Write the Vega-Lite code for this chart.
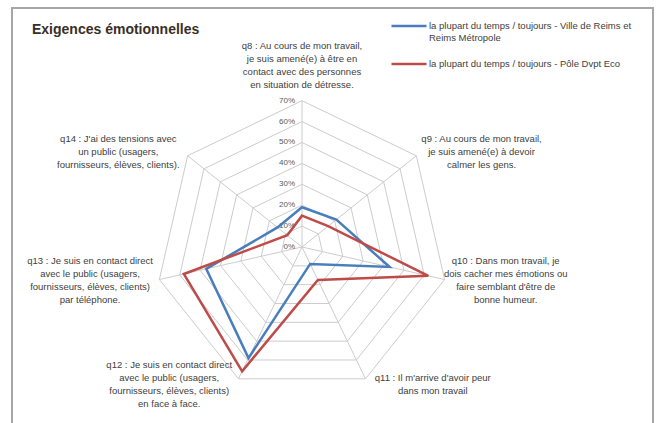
{
  "$schema": "https://vega.github.io/schema/vega-lite/v6.json",
  "width": 641,
  "height": 418,
  "autosize": "none",
  "padding": {"left": 12, "top": 8, "right": 5, "bottom": 0},
  "background": "white",
  "title": {
    "text": "Exigences émotionnelles",
    "anchor": "start",
    "frame": "group",
    "offset": -30,
    "dx": 20,
    "fontSize": 14,
    "fontWeight": "bold",
    "color": "#3a2e25",
    "font": "Liberation Sans"
  },
  "config": {
    "view": {"stroke": "#a6a6a6", "strokeWidth": 2},
    "font": "Liberation Sans"
  },
  "datasets": {
    "series": [
      {"axis": "q8", "idx": 0, "series": "la plupart du temps / toujours - Ville de Reims et Reims Métropole", "value": 19},
      {"axis": "q9", "idx": 1, "series": "la plupart du temps / toujours - Ville de Reims et Reims Métropole", "value": 21},
      {"axis": "q10", "idx": 2, "series": "la plupart du temps / toujours - Ville de Reims et Reims Métropole", "value": 43},
      {"axis": "q11", "idx": 3, "series": "la plupart du temps / toujours - Ville de Reims et Reims Métropole", "value": 9},
      {"axis": "q12", "idx": 4, "series": "la plupart du temps / toujours - Ville de Reims et Reims Métropole", "value": 59},
      {"axis": "q13", "idx": 5, "series": "la plupart du temps / toujours - Ville de Reims et Reims Métropole", "value": 47},
      {"axis": "q14", "idx": 6, "series": "la plupart du temps / toujours - Ville de Reims et Reims Métropole", "value": 15},
      {"axis": "q8", "idx": 0, "series": "la plupart du temps / toujours - Pôle Dvpt Eco", "value": 15},
      {"axis": "q9", "idx": 1, "series": "la plupart du temps / toujours - Pôle Dvpt Eco", "value": 16},
      {"axis": "q10", "idx": 2, "series": "la plupart du temps / toujours - Pôle Dvpt Eco", "value": 62},
      {"axis": "q11", "idx": 3, "series": "la plupart du temps / toujours - Pôle Dvpt Eco", "value": 17.5},
      {"axis": "q12", "idx": 4, "series": "la plupart du temps / toujours - Pôle Dvpt Eco", "value": 66},
      {"axis": "q13", "idx": 5, "series": "la plupart du temps / toujours - Pôle Dvpt Eco", "value": 58},
      {"axis": "q14", "idx": 6, "series": "la plupart du temps / toujours - Pôle Dvpt Eco", "value": 9}
    ],
    "grid": [
      {"level": 0, "idx": [0, 1, 2, 3, 4, 5, 6]},
      {"level": 10, "idx": [0, 1, 2, 3, 4, 5, 6]},
      {"level": 20, "idx": [0, 1, 2, 3, 4, 5, 6]},
      {"level": 30, "idx": [0, 1, 2, 3, 4, 5, 6]},
      {"level": 40, "idx": [0, 1, 2, 3, 4, 5, 6]},
      {"level": 50, "idx": [0, 1, 2, 3, 4, 5, 6]},
      {"level": 60, "idx": [0, 1, 2, 3, 4, 5, 6]},
      {"level": 70, "idx": [0, 1, 2, 3, 4, 5, 6]}
    ],
    "labels": [
      {"axis": "q8", "idx": 0, "lines": ["q8 : Au cours de mon travail,", "je suis amené(e) à être en", "contact avec des personnes", "en situation de détresse."]},
      {"axis": "q9", "idx": 1, "lines": ["q9 : Au cours de mon travail,", "je suis amené(e) à  devoir", "calmer les gens."]},
      {"axis": "q10", "idx": 2, "lines": ["q10 : Dans mon travail, je", "dois cacher mes émotions ou", "faire semblant d'être de", "bonne humeur."]},
      {"axis": "q11", "idx": 3, "lines": ["q11 : Il m'arrive d'avoir peur", "dans mon travail"]},
      {"axis": "q12", "idx": 4, "lines": ["q12 : Je suis en contact direct", "avec le public (usagers,", "fournisseurs, élèves, clients)", "en face à face."]},
      {"axis": "q13", "idx": 5, "lines": ["q13 : Je suis en contact direct", "avec le public (usagers,", "fournisseurs, élèves, clients)", "par téléphone."]},
      {"axis": "q14", "idx": 6, "lines": ["q14 : J'ai des tensions avec", "un public (usagers,", "fournisseurs, élèves, clients)."]}
    ]
  },
  "layer": [
    {
      "data": {"name": "grid"},
      "transform": [
        {"flatten": ["idx"]},
        {"calculate": "datum.level*sin(datum.idx*2*PI/7)", "as": "gx"},
        {"calculate": "datum.level*cos(datum.idx*2*PI/7)", "as": "gy"}
      ],
      "mark": {"type": "line", "interpolate": "linear-closed", "stroke": "#cccccc", "strokeWidth": 1},
      "encoding": {
        "x": {"field": "gx", "type": "quantitative", "scale": {"domain": [-138.76, 167.94], "nice": false, "zero": false}, "axis": null},
        "y": {"field": "gy", "type": "quantitative", "scale": {"domain": [-85.65, 114.35], "nice": false, "zero": false}, "axis": null},
        "detail": {"field": "level", "type": "nominal"},
        "order": {"field": "idx", "type": "quantitative"}
      }
    },
    {
      "data": {"name": "labels"},
      "transform": [
        {"calculate": "70*sin(datum.idx*2*PI/7)", "as": "sx"},
        {"calculate": "70*cos(datum.idx*2*PI/7)", "as": "sy"}
      ],
      "mark": {"type": "rule", "stroke": "#cccccc", "strokeWidth": 1},
      "encoding": {
        "x": {"field": "sx", "type": "quantitative"},
        "y": {"field": "sy", "type": "quantitative"},
        "x2": {"datum": 0},
        "y2": {"datum": 0}
      }
    },
    {
      "data": {"name": "grid"},
      "transform": [{"calculate": "datum.level + '%'", "as": "tick"}],
      "mark": {"type": "text", "align": "right", "baseline": "middle", "dx": -7, "fontSize": 8, "fill": "#595959"},
      "encoding": {
        "x": {"datum": 0, "type": "quantitative"},
        "y": {"field": "level", "type": "quantitative"},
        "text": {"field": "tick", "type": "nominal"}
      }
    },
    {
      "data": {"name": "labels"},
      "transform": [
        {"calculate": "datum.idx*2*PI/7", "as": "theta"},
        {"calculate": "sin(datum.theta)", "as": "s"},
        {"calculate": "cos(datum.theta)", "as": "c"},
        {"calculate": "datum.s > 0.1 ? 1 : (datum.s < -0.1 ? -1 : 0)", "as": "sg"},
        {"calculate": "max(length(datum.lines[0]), length(datum.lines[1] || ''), length(datum.lines[2] || ''), length(datum.lines[3] || ''))", "as": "maxlen"},
        {"calculate": "length(datum.lines)", "as": "nl"},
        {"calculate": "70*datum.s + datum.sg*(5 + datum.maxlen*4.15/2)/2.09", "as": "lx"},
        {"calculate": "70*datum.c + (datum.sg == 0 ? (datum.nl*13/2 + 9)/2.09 : 6.5*datum.c/2.09) + (datum.nl - 1)*6.5/2.09", "as": "ly"}
      ],
      "mark": {"type": "text", "align": "center", "baseline": "middle", "fontSize": 9.5, "lineHeight": 13, "fill": "#404040"},
      "encoding": {
        "x": {"field": "lx", "type": "quantitative"},
        "y": {"field": "ly", "type": "quantitative"},
        "text": {"field": "lines", "type": "nominal"}
      }
    },
    {
      "data": {"name": "series"},
      "transform": [
        {"calculate": "datum.value*sin(datum.idx*2*PI/7)", "as": "px"},
        {"calculate": "datum.value*cos(datum.idx*2*PI/7)", "as": "py"}
      ],
      "mark": {"type": "line", "interpolate": "linear-closed", "strokeWidth": 2.5},
      "encoding": {
        "x": {"field": "px", "type": "quantitative"},
        "y": {"field": "py", "type": "quantitative"},
        "order": {"field": "idx", "type": "quantitative"},
        "color": {
          "field": "series",
          "type": "nominal",
          "scale": {
            "domain": ["la plupart du temps / toujours - Ville de Reims et Reims Métropole", "la plupart du temps / toujours - Pôle Dvpt Eco"],
            "range": ["#4a7ebb", "#be4b48"]
          },
          "legend": {
            "orient": "none",
            "legendX": 378,
            "legendY": -1,
            "title": null,
            "symbolType": "stroke",
            "symbolSize": 1225,
            "symbolStrokeWidth": 2.5,
            "labelFontSize": 9.5,
            "labelColor": "#404040",
            "labelLimit": 400,
            "labelOffset": 1,
            "rowPadding": 3,
            "labelExpr": "datum.label == 'la plupart du temps / toujours - Ville de Reims et Reims Métropole' ? ['la plupart du temps / toujours - Ville de Reims et', 'Reims Métropole'] : datum.label"
          }
        }
      }
    }
  ]
}
